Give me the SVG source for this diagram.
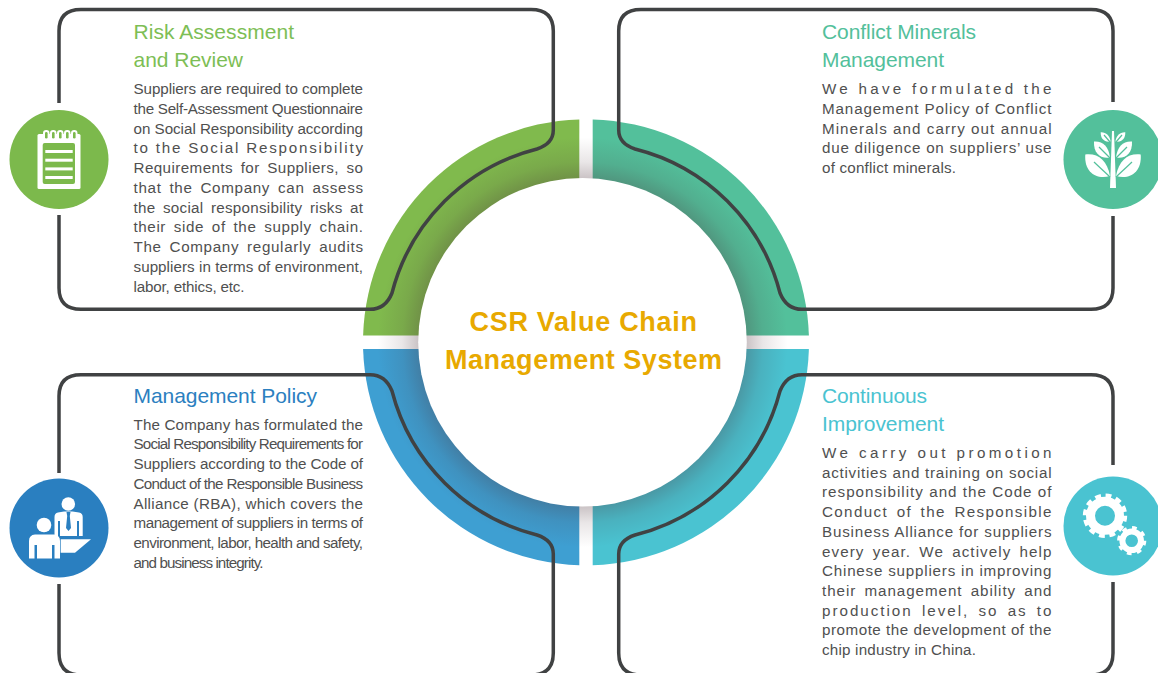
<svg xmlns="http://www.w3.org/2000/svg" width="1158" height="673" viewBox="0 0 1158 673">
<style>
text{font-family:"Liberation Sans",Arial,sans-serif}
.b{font-size:15.2px;fill:#505050}
.s{word-spacing:3px}
.t{font-size:21px}
.c{font-size:27px;font-weight:bold;fill:#e8a900}
.ln{fill:none;stroke:#404243;stroke-width:3.5}
.w{fill:#fff}
</style>
<defs>
<radialGradient id="sh" gradientUnits="userSpaceOnUse" cx="582.5" cy="342.3" r="205">
<stop offset="0.8" stop-color="#4a3038" stop-opacity="0.29"/>
<stop offset="0.88" stop-color="#4a3038" stop-opacity="0.12"/>
<stop offset="1" stop-color="#4a3038" stop-opacity="0"/>
</radialGradient>
</defs>
<rect width="1158" height="673" fill="#fff"/>
<g id="ring">
<path fill="#80ba4d" d="M579.3 119.4A223 223 0 0 0 363.1 335.6H579.3Z"/>
<path fill="#53c09b" d="M592.7 119.4A223 223 0 0 1 808.9 335.6H592.7Z"/>
<path fill="#3e9fd2" d="M579.3 565.2A223 223 0 0 1 363.1 349H579.3Z"/>
<path fill="#4ac3d1" d="M592.7 565.2A223 223 0 0 0 808.9 349H592.7Z"/>
<circle cx="582.5" cy="342.3" r="205" fill="url(#sh)"/>
<circle cx="582.5" cy="342.3" r="164.3" class="w"/>
</g>
<g id="connectors">
<path class="ln" d="M59 103V31Q59 9.5 81 9.5H531Q553.3 9.5 553.3 31V130C553.3 141 546 146 537 149A200 200 0 0 0 392 293C388 303 381 309.3 370 309.3H81Q59 309.3 59 288V215"/>
<path class="ln" d="M1113 102V31Q1113 9.5 1091 9.5H641Q618.7 9.5 618.7 31V130C618.7 141 626 146 635 149A200 200 0 0 1 780 293C784 303 791 309.3 802 309.3H1091Q1113 309.3 1113 288V216"/>
<path class="ln" d="M59 473V396Q59 374.7 81 374.7H370C381 374.7 388 381 392 391A200 200 0 0 0 537 535C546 538 553.3 543 553.3 554V653Q553.3 675 531 675H81Q59 675 59 653V584"/>
<path class="ln" d="M1113 465V396Q1113 374.7 1091 374.7H802C791 374.7 784 381 780 391A200 200 0 0 1 635 535C626 538 618.7 543 618.7 554V653Q618.7 675 641 675H1091Q1113 675 1113 653V582"/>
</g>
<g id="center-label">
<text class="c" x="469.5" y="331" textLength="227.5">CSR Value Chain</text>
<text class="c" x="445" y="368.5" textLength="277">Management System</text>
</g>
<g id="risk">
<circle cx="59" cy="159.5" r="49.5" fill="#7cb94c"/>
<rect x="37.5" y="134" width="43" height="55" rx="1.5" class="w"/>
<rect x="42.7" y="143" width="32.3" height="41" rx="2" fill="#7cb94c"/>
<g fill="#fff"><rect x="43" y="130" width="6.5" height="10" rx="3.2"/><rect x="50" y="130" width="6.5" height="10" rx="3.2"/><rect x="57" y="130" width="6.5" height="10" rx="3.2"/><rect x="64" y="130" width="6.5" height="10" rx="3.2"/><rect x="71" y="130" width="6.5" height="10" rx="3.2"/></g>
<g fill="#7cb94c"><rect x="45" y="132" width="2.6" height="6.5" rx="1.3"/><rect x="52" y="132" width="2.6" height="6.5" rx="1.3"/><rect x="59" y="132" width="2.6" height="6.5" rx="1.3"/><rect x="66" y="132" width="2.6" height="6.5" rx="1.3"/><rect x="73" y="132" width="2.6" height="6.5" rx="1.3"/></g>
<g fill="#fff"><rect x="45.3" y="150" width="27.4" height="3"/><rect x="45.3" y="158.7" width="27.4" height="3"/><rect x="45.3" y="167.4" width="27.4" height="3"/><rect x="45.3" y="176" width="27.4" height="3"/></g>
<text class="t" fill="#7dbe55" x="133.5" y="39" textLength="160.5">Risk Assessment</text>
<text class="t" fill="#7dbe55" x="133.5" y="67" textLength="109.5">and Review</text>
<text class="b" x="133.5" y="94" textLength="229.5">Suppliers are required to complete</text>
<text class="b" x="133.5" y="113.8" textLength="229.5">the Self-Assessment Questionnaire</text>
<text class="b" x="133.5" y="133.5" textLength="229.5">on Social Responsibility according</text>
<text class="b" x="133.5" y="153.3" textLength="229.5">to the Social Responsibility</text>
<text class="b s" x="133.5" y="173.1" textLength="229.5">Requirements for Suppliers, so</text>
<text class="b s" x="133.5" y="192.9" textLength="229.5">that the Company can assess</text>
<text class="b s" x="133.5" y="212.6" textLength="229.5">the social responsibility risks at</text>
<text class="b s" x="133.5" y="232.4" textLength="229.5">their side of the supply chain.</text>
<text class="b s" x="133.5" y="252.2" textLength="229.5">The Company regularly audits</text>
<text class="b" x="133.5" y="271.9" textLength="229.5">suppliers in terms of environment,</text>
<text class="b" x="133.5" y="291.7" textLength="111">labor, ethics, etc.</text>
</g>
<g id="conflict">
<circle cx="1113" cy="159.5" r="49.5" fill="#53c09b"/>
<path class="w" d="M1112 131H1114L1116 188H1110Z"/>
<g class="w">
<path d="M1085.3 154.5C1098 153 1107 160 1110 176C1096 180 1084 172 1085.3 154.5Z"/>
<path d="M1140.7 154.5C1128 153 1119 160 1116 176C1130 180 1142 172 1140.7 154.5Z"/>
<path d="M1094 141.5C1103 141 1108.5 146 1110 157.5C1100 159 1093.5 153 1094 141.5Z"/>
<path d="M1132 141.5C1123 141 1117.5 146 1116 157.5C1126 159 1132.5 153 1132 141.5Z"/>
<path d="M1100.7 132.3C1106 132 1110 136 1110.5 141.5C1104 142.5 1100.5 138.5 1100.7 132.3Z"/>
<path d="M1125.3 132.3C1120 132 1116 136 1115.5 141.5C1122 142.5 1125.5 138.5 1125.3 132.3Z"/>
</g>
<g fill="none" stroke="#53c09b" stroke-width="1.2"><path d="M1094 162L1110 177"/><path d="M1132 162L1116 177"/><path d="M1099 147L1110 158"/><path d="M1127 147L1116 158"/><path d="M1104 135L1110 142"/><path d="M1122 135L1116 142"/></g>
<text class="t" fill="#53c09b" x="822" y="39" textLength="154">Conflict Minerals</text>
<text class="t" fill="#53c09b" x="822" y="67" textLength="122">Management</text>
<text class="b" x="822" y="94" textLength="229.5">We have formulated the</text>
<text class="b" x="822" y="113.8" textLength="229.5">Management Policy of Conflict</text>
<text class="b" x="822" y="133.5" textLength="229.5">Minerals and carry out annual</text>
<text class="b" x="822" y="153.3" textLength="229.5">due diligence on suppliers’ use</text>
<text class="b" x="822" y="173.1" textLength="134">of conflict minerals.</text>
</g>
<g id="policy">
<circle cx="59" cy="528" r="49.5" fill="#2a7fc0"/>
<g class="w">
<circle cx="68.3" cy="504" r="6.8"/>
<path d="M54.5 536V517Q54.5 513 58 512.5L64 511.5H72.5L79 512.5Q82.7 513 82.7 517V536H79V521H77V536H60V521H58V536Z"/>
<path d="M60.7 539.3H91L75 552.8H60.7Z"/>
<circle cx="44" cy="525" r="7.3"/>
<path d="M29 558.5V541Q29 535 35 534.5H54Q60 535 60 541V558.5H54.5V545H52V558.5H37V545H34.5V558.5Z"/>
</g>
<path fill="#2a7fc0" d="M66.5 512H70.5L69.8 516L71 528L68.5 531L66 528L67.2 516Z"/>
<text class="t" fill="#2b80c0" x="133.5" y="403" textLength="183.5">Management Policy</text>
<text class="b" x="133.5" y="429.5" textLength="229.5">The Company has formulated the</text>
<text class="b" x="133.5" y="449.3" textLength="229.5">Social Responsibility Requirements for</text>
<text class="b" x="133.5" y="469" textLength="229.5">Suppliers according to the Code of</text>
<text class="b" x="133.5" y="488.8" textLength="229.5">Conduct of the Responsible Business</text>
<text class="b" x="133.5" y="508.6" textLength="229.5">Alliance (RBA), which covers the</text>
<text class="b" x="133.5" y="528.3" textLength="229.5">management of suppliers in terms of</text>
<text class="b" x="133.5" y="548.1" textLength="229.5">environment, labor, health and safety,</text>
<text class="b" x="133.5" y="567.9" textLength="130">and business integrity.</text>
</g>
<g id="improvement">
<circle cx="1113" cy="526" r="49.5" fill="#4ac3d1"/>
<g fill="none" stroke="#fff">
<circle cx="1105" cy="515.7" r="14.5" stroke-width="9"/>
<circle cx="1105" cy="515.7" r="20" stroke-width="4.4" stroke-dasharray="5.8 4.67"/>
<circle cx="1131.7" cy="540.7" r="9.3" stroke-width="6"/>
<circle cx="1131.7" cy="540.7" r="12.8" stroke-width="3.6" stroke-dasharray="4.6 5.45"/>
</g>
<text class="t" fill="#4ac3d1" x="822" y="403" textLength="105">Continuous</text>
<text class="t" fill="#4ac3d1" x="822" y="431" textLength="122">Improvement</text>
<text class="b" x="822" y="458" textLength="229.5">We carry out promotion</text>
<text class="b" x="822" y="477.7" textLength="229.5">activities and training on social</text>
<text class="b" x="822" y="497.4" textLength="229.5">responsibility and the Code of</text>
<text class="b s" x="822" y="517.1" textLength="229.5">Conduct of the Responsible</text>
<text class="b" x="822" y="536.8" textLength="229.5">Business Alliance for suppliers</text>
<text class="b s" x="822" y="556.5" textLength="229.5">every year. We actively help</text>
<text class="b" x="822" y="576.2" textLength="229.5">Chinese suppliers in improving</text>
<text class="b s" x="822" y="595.9" textLength="229.5">their management ability and</text>
<text class="b s" x="822" y="615.6" textLength="229.5">production level, so as to</text>
<text class="b" x="822" y="635.3" textLength="229.5">promote the development of the</text>
<text class="b" x="822" y="655" textLength="154">chip industry in China.</text>
</g>
</svg>
